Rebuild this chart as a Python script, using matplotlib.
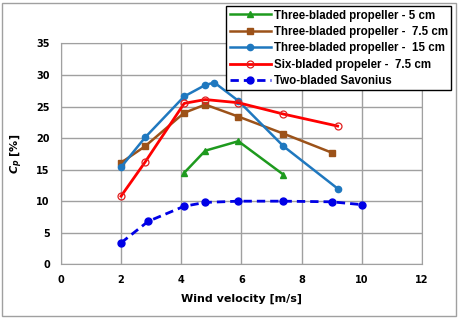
import matplotlib
matplotlib.use("Agg")
import matplotlib.pyplot as plt
from matplotlib.patches import Rectangle

# Curvas de Cp frente a la velocidad del viento
x_tres5 = [4.1, 4.8, 5.9, 7.4]
cp_tres5 = [14.5, 18.0, 19.5, 14.2]

x_tres75 = [2.0, 2.8, 4.1, 4.8, 5.9, 7.4, 9.0]
cp_tres75 = [16.1, 18.7, 24.0, 25.3, 23.4, 20.7, 17.7]

x_tres15 = [2.0, 2.8, 4.1, 4.8, 5.1, 5.9, 7.4, 9.2]
cp_tres15 = [15.4, 20.1, 26.6, 28.4, 28.8, 25.9, 18.7, 12.0]

x_seis75 = [2.0, 2.8, 4.1, 4.8, 5.9, 7.4, 9.2]
cp_seis75 = [10.8, 16.2, 25.5, 26.1, 25.6, 23.8, 21.9]

x_savonius = [2.0, 2.9, 4.1, 4.8, 5.9, 7.4, 9.0, 10.0]
cp_savonius = [3.4, 6.8, 9.2, 9.8, 10.0, 10.0, 9.9, 9.45]

etiquetas = ['Three-bladed propeller - 5 cm', 'Three-bladed propeller -  7.5 cm',
             'Three-bladed propeller -  15 cm', 'Six-bladed propeler -  7.5 cm',
             'Two-bladed Savonius']

plt.rcParams['font.family'] = 'DejaVu Sans'
plt.rcParams['font.weight'] = 'bold'

fig = plt.figure(figsize=(4.58, 3.19), dpi=100)
ax = fig.add_axes([0.133, 0.1715, 0.788, 0.6925])

ax.plot(x_tres5, cp_tres5, '-', color='#1e9a1e', lw=1.8, marker='^', ms=4, label=etiquetas[0])
ax.plot(x_tres75, cp_tres75, '-', color='#9c5219', lw=1.8, marker='s', ms=4.5, label=etiquetas[1])
ax.plot(x_tres15, cp_tres15, '-', color='#1f78bf', lw=1.8, marker='o', ms=4.5, label=etiquetas[2])
ax.plot(x_seis75, cp_seis75, '-', color='#ff0000', lw=2, marker='o', ms=5,
        mfc='none', mec='#e02020', mew=0.9, label=etiquetas[3])
ax.plot(x_savonius, cp_savonius, '--', color='#0000e6', lw=2, marker='o', ms=5,
        dashes=(3, 1.8), label=etiquetas[4])

ax.set_xlim(0, 12)
ax.set_ylim(0, 35)
ax.set_xticks(range(0, 13, 2))
ax.set_yticks(range(0, 36, 5))
ax.grid(True, color='#a0a0a0', lw=1)
ax.set_axisbelow(True)
for s in ax.spines.values():
    s.set_color('#a0a0a0')
ax.tick_params(length=0, labelsize=7, pad=8)
for t in ax.get_xticklabels() + ax.get_yticklabels():
    t.set_fontweight('bold')

ax.set_xlabel('Wind velocity [m/s]', fontsize=8, fontweight='bold', labelpad=6)
ax.set_ylabel(r'$\mathbf{\mathit{C_p}}$ [%]', fontsize=8, fontweight='bold', labelpad=8)

leg = fig.legend(loc='upper right', bbox_to_anchor=(0.985, 0.981),
                 prop={'family': 'Liberation Sans', 'weight': 'bold', 'size': 8.3},
                 frameon=True, fancybox=False, edgecolor='black', framealpha=1,
                 handlelength=3.6, handletextpad=0.2, borderpad=0.3, labelspacing=0.38,
                 borderaxespad=0)
leg.get_frame().set_linewidth(1)

fig.patches.append(Rectangle((0.005, 0.01), 0.99, 0.982, transform=fig.transFigure,
                             fill=False, edgecolor='#a0a0a0', lw=1))

fig.savefig('out.png', dpi=100)
